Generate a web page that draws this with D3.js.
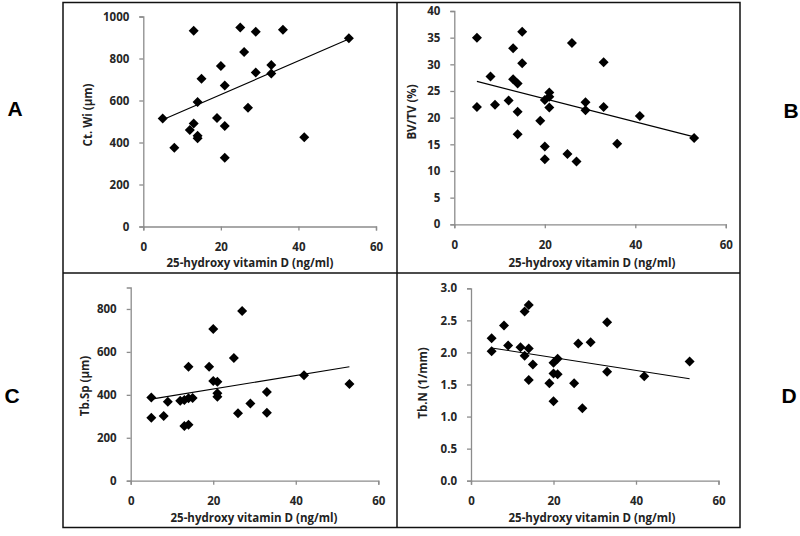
<!DOCTYPE html>
<html>
<head>
<meta charset="utf-8">
<script src="https://cdnjs.cloudflare.com/ajax/libs/d3/7.8.5/d3.min.js"></script>
<style>
  html, body { margin: 0; padding: 0; background: #fff; }
  svg { display: block; }
  .tick text { font-family: "Open Sans", sans-serif; font-weight: bold; font-size: 11.5px; fill: #262626; }
  .ttl { font-family: "Open Sans", sans-serif; font-weight: bold; font-size: 11.5px; fill: #222; }
  .letter { font-family: "Liberation Sans", Arial, sans-serif; font-weight: bold; font-size: 21px; fill: #000; }
</style>
</head>
<body>
<svg id="chart" width="800" height="536"></svg>
<script>
// ---------- DATA ----------
const xTitle = "25-hydroxy vitamin D (ng/ml)";
const panelLetters = ["A", "B", "C", "D"];
const yTitles = ["Ct. Wi (\u03bcm)", "BV/TV (%)", "Tb.Sp (\u03bcm)", "Tb.N (1/mm)"];
const xTicks = [0, 20, 40, 60];
const yTicksA = [0, 200, 400, 600, 800, 1000];
const yTicksB = [0, 5, 10, 15, 20, 25, 30, 35, 40];
const yTicksC = [0, 200, 400, 600, 800];
const yTicksD = [0, 0.5, 1.0, 1.5, 2.0, 2.5, 3.0];

// Panel A: Ct.Wi
const vitDA = [5, 8, 12, 13, 13, 14, 14, 14, 15, 19, 20, 21, 21, 21, 25, 26, 27, 29, 29, 33, 33, 36, 41.5, 53];
const ctWi  = [514, 375, 460, 490, 932, 593, 432, 420, 704, 517, 764, 671, 479, 327, 948, 831, 565, 927, 733, 769, 728, 937, 425, 896];
const trendA = [[5, 508], [53, 893]];

// Panel B: BV/TV
const vitDB = [5, 5, 8, 9, 12, 13, 13, 14, 14, 14, 15, 15, 19, 20, 20, 20, 21, 21, 21, 25, 26, 27, 29, 29, 33, 33, 36, 41, 53];
const bvTv  = [35.0, 22.0, 27.7, 22.4, 23.2, 33.0, 27.2, 26.4, 21.1, 16.9, 36.1, 30.2, 19.4, 23.3, 14.6, 12.2, 24.7, 23.9, 21.9, 13.2, 34.0, 11.8, 22.9, 21.4, 30.4, 22.0, 15.1, 20.3, 16.2];
const trendB = [[5, 26.8], [53, 16.4]];

// Panel C: Tb.Sp
const vitDC = [5, 5, 8, 9, 12, 13, 13, 14, 14, 14, 15, 19, 20, 20, 21, 21, 21, 25, 26, 27, 29, 33, 33, 42, 53];
const tbSp  = [387, 293, 301, 368, 373, 376, 255, 261, 531, 384, 385, 531, 707, 464, 461, 407, 391, 571, 314, 790, 360, 413, 317, 491, 450];
const trendC = [[5, 380], [53, 531]];

// Panel D: Tb.N
const vitDD = [5, 5, 8, 9, 12, 13, 13, 14, 14, 14, 15, 19, 20, 20, 20, 21, 21, 25, 26, 27, 29, 33, 33, 42, 53];
const tbN   = [2.22, 2.02, 2.42, 2.11, 2.08, 2.64, 1.95, 2.74, 2.06, 1.57, 1.81, 1.52, 1.84, 1.67, 1.24, 1.90, 1.66, 1.52, 2.14, 1.13, 2.16, 2.47, 1.70, 1.63, 1.86];
const trendD = [[5, 2.07], [53, 1.59]];

// ---------- LAYOUT ----------
const panels = [
  { xs: vitDA, ys: ctWi, trend: trendA, yTicks: yTicksA, yDom: [0, 1000], fmt: d3.format("d"),
    xr: [143.3, 376], yr: [226.5, 16.5], yTitlePos: [88, 115], xTitlePos: [250, 267],
    letterPos: [15, 116] },
  { xs: vitDB, ys: bvTv, trend: trendB, yTicks: yTicksB, yDom: [0, 40], fmt: d3.format("d"),
    xr: [454.3, 725.8], yr: [224.3, 11], yTitlePos: [412, 112], xTitlePos: [592, 267],
    letterPos: [791, 118] },
  { xs: vitDC, ys: tbSp, trend: trendC, yTicks: yTicksC, yDom: [0, 900], fmt: d3.format("d"),
    xr: [130.7, 378.3], yr: [480.7, 287.5], yTitlePos: [85, 386], xTitlePos: [254, 522],
    letterPos: [12, 403] },
  { xs: vitDD, ys: tbN, trend: trendD, yTicks: yTicksD, yDom: [0, 3], fmt: d3.format(".1f"),
    xr: [471, 718.5], yr: [480.7, 288.3], yTitlePos: [423, 383], xTitlePos: [592, 522],
    letterPos: [789, 403] }
];

const svg = d3.select("#chart");

// outer frame + dividers
const frame = svg.append("g").attr("fill", "none").attr("stroke", "#111").attr("stroke-width", 1.5);
frame.append("rect").attr("x", 63).attr("y", 2.5).attr("width", 677).attr("height", 525);
frame.append("line").attr("x1", 397).attr("x2", 397).attr("y1", 2.5).attr("y2", 527.5);
frame.append("line").attr("x1", 63).attr("x2", 740).attr("y1", 273).attr("y2", 273);

panels.forEach((p, i) => {
  const x = d3.scaleLinear().domain([0, 60]).range(p.xr);
  const y = d3.scaleLinear().domain(p.yDom).range(p.yr);
  const g = svg.append("g");

  const xAxis = g.append("g").attr("transform", `translate(0,${p.yr[0]})`)
    .call(d3.axisBottom(x).tickValues(xTicks).tickSize(4).tickPadding(10).tickFormat(d3.format("d")));
  const yAxis = g.append("g").attr("transform", `translate(${p.xr[0]},0)`)
    .call(d3.axisLeft(y).tickValues(p.yTicks).tickSize(4).tickPadding(10).tickFormat(p.fmt));
  [xAxis, yAxis].forEach(a => {
    a.select(".domain").attr("stroke", "#8c8c8c").attr("stroke-width", 1.3);
    a.selectAll(".tick line").attr("stroke", "#8c8c8c").attr("stroke-width", 1.3);
  });
  xAxis.selectAll(".tick text").attr("dy", "0.9em");

  // trend line
  g.append("line")
    .attr("x1", x(p.trend[0][0])).attr("y1", y(p.trend[0][1]))
    .attr("x2", x(p.trend[1][0])).attr("y2", y(p.trend[1][1]))
    .attr("stroke", "#000").attr("stroke-width", 1.1);

  // points
  g.selectAll("path.pt").data(p.xs.map((v, k) => [v, p.ys[k]])).join("path")
    .attr("class", "pt")
    .attr("d", d3.symbol().type(d3.symbolSquare).size(50))
    .attr("transform", d => `translate(${x(d[0])},${y(d[1])}) rotate(45)`)
    .attr("fill", "#000");

  g.append("text").attr("class", "ttl")
    .attr("text-anchor", "middle")
    .attr("transform", `translate(${p.yTitlePos[0]},${p.yTitlePos[1]}) rotate(-90)`)
    .attr("dy", "0.35em")
    .text(yTitles[i]);
  g.append("text").attr("class", "ttl")
    .attr("text-anchor", "middle")
    .attr("x", p.xTitlePos[0]).attr("y", p.xTitlePos[1])
    .text(xTitle);
  svg.append("text").attr("class", "letter")
    .attr("text-anchor", "middle")
    .attr("x", p.letterPos[0]).attr("y", p.letterPos[1])
    .text(panelLetters[i]);
});
</script>
</body>
</html>
